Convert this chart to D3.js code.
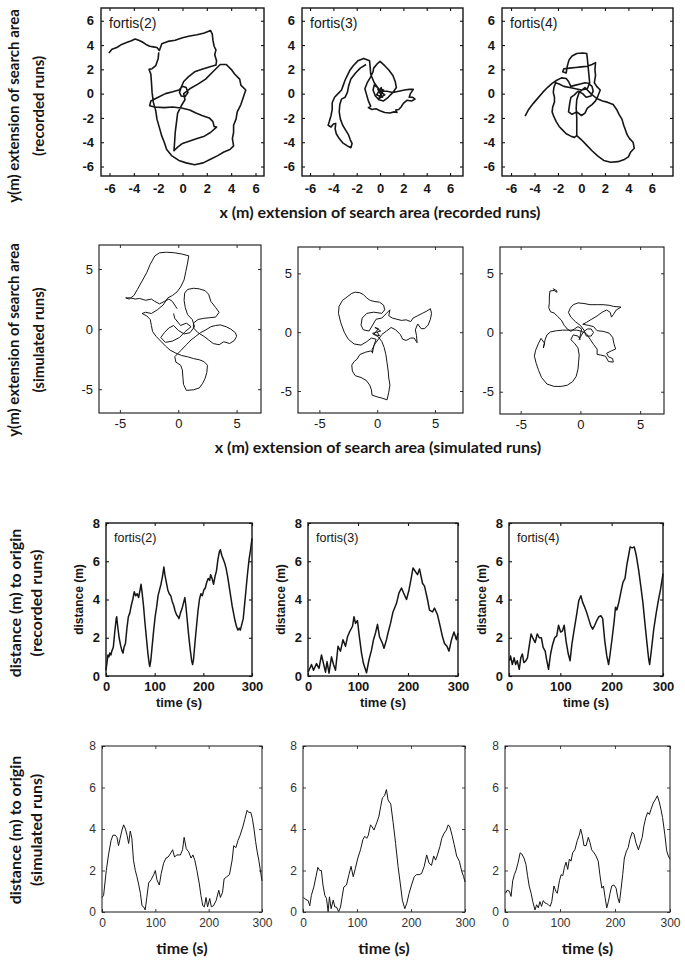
<!DOCTYPE html>
<html><head><meta charset="utf-8">
<script src="https://cdn.jsdelivr.net/npm/d3@7"></script>
<style>body{margin:0;background:#fff}svg{display:block}</style>
</head><body>
<svg id="c" width="685" height="960"></svg>
<script>
// ---------- DATA ----------
const panelTitles = ["fortis(2)", "fortis(3)", "fortis(4)"];
const recTicks = [-6, -4, -2, 0, 2, 4, 6];
const simTicks = [-5, 0, 5];
const timeTicks = [0, 100, 200, 300];
const distTicks = [0, 2, 4, 6, 8];

// recorded runs, x/y positions (m)
const recXY2 = [[-6.05,3.35],[-5.8,3.65],[-5.4,3.8],[-5.0,4.05],[-4.6,4.2],[-4.2,4.35],[-3.9,4.5],[-3.6,4.4],[-3.3,4.25],[-3.0,4.05],[-2.7,3.9],[-2.4,3.85],[-2.1,3.8],[-1.9,3.55],
[-1.7,4.1],[-1.2,4.3],[-0.6,4.4],[0,4.6],[0.6,4.75],[1.2,4.85],[1.8,5.0],[2.3,5.2],[2.45,4.9],[2.5,4.4],[2.6,3.9],[2.75,3.6],[2.65,3.2],[2.8,2.7],[2.75,2.35],
[2.2,2.2],[1.6,2.0],[1.0,1.8],[0.5,1.4],[0.1,1.0],[-0.1,0.55],[-0.25,0.1],[-0.1,-0.2],[0.2,-0.25],[0.45,0.1],[0.3,0.5],[0,0.6],[-0.3,0.3],
[-0.8,0.15],[-1.4,0.0],[-2.0,-0.3],[-2.6,-0.6],[-2.7,-1.0],[-2.3,-1.1],[-1.5,-1.15],[-0.8,-1.1],[0,-1.2],[0.6,-1.35],[1.1,-1.6],[1.6,-1.8],[2.2,-2.0],[2.5,-2.3],[2.6,-2.7],[2.8,-2.75],
[2.3,-3.2],[1.8,-3.5],[1.2,-3.7],[0.6,-3.9],[0,-4.1],[-0.4,-4.4],[-0.7,-4.7],
[-0.65,-4.0],[-0.6,-3.2],[-0.5,-2.4],[-0.4,-1.6],[-0.1,-1.0],[0.2,-0.5],[0.1,0.0],
[0.6,0.4],[1.3,0.8],[1.9,1.2],[2.5,1.8],[3.1,2.4],[3.6,2.4],[4.0,2.0],[4.3,1.6],[4.7,1.2],[4.8,0.7],[5.2,0.3],[5.0,-0.3],[4.8,-0.9],[4.5,-1.5],[4.4,-2.1],[4.2,-2.6],[4.2,-3.2],[4.1,-3.7],[4.2,-4.3],[3.9,-4.6],[3.4,-4.8],[2.9,-5.1],[2.3,-5.4],[1.7,-5.7],[1.0,-5.85],[0.3,-5.7],[-0.3,-5.5],[-0.9,-5.1],[-1.3,-4.6],[-1.5,-4.0],[-1.7,-3.5],[-1.9,-2.8],[-2.1,-2.1],[-2.2,-1.4],[-2.4,-0.7],[-2.5,0.1],[-2.55,0.9],[-2.6,1.6],[-2.75,2.0],[-2.5,2.05],[-2.2,2.3],[-2.0,2.9],[-1.95,3.4]];

const recXY3 = [[0,0],[0.3,0.3],[-0.2,0.4],[0.2,-0.3],[-0.3,-0.1],[0.1,0.5],[0.2,0.1],[-0.1,-0.4],[0.4,-0.1],[0,0.2],
[0.6,0.2],[1.1,0.1],[1.6,0.2],[2.1,0.3],[2.5,0.35],[2.85,0.35],[2.6,0.0],[2.5,-0.3],[2.8,-0.3],[3.0,-0.45],[2.7,-0.6],[2.3,-0.55],[2.0,-0.8],[1.8,-1.1],[1.6,-1.3],[1.35,-1.35],[1.45,-1.55],[1.2,-1.5],
[0.85,-1.6],[0.4,-1.55],[0.0,-1.4],[-0.35,-1.25],[-0.7,-1.3],[-1.0,-1.15],[-0.8,-1.05],[-1.0,-0.6],[-1.15,-0.1],[-1.3,0.4],[-1.1,0.9],[-0.85,1.3],[-0.6,1.8],[-0.55,2.1],
[-0.2,2.5],[0.0,2.65],[0.4,2.3],[0.75,1.95],[1.1,1.5],[1.3,1.0],[1.4,0.5],[1.1,0.1],[0.7,-0.3],[0.3,-0.6],[-0.1,-0.5],[-0.4,-0.2],[-0.6,0.3],[-0.5,0.7],[-0.2,0.5],[0.1,0.1],
[-0.5,0.9],[-0.8,1.6],[-0.85,2.2],[-0.9,2.7],[-1.4,2.9],[-1.9,2.7],[-2.3,2.3],[-2.6,1.9],[-2.8,1.5],[-3.0,1.1],[-3.15,0.7],[-3.3,0.3],[-3.6,0.0],[-3.9,-0.3],[-4.1,-0.75],[-4.1,-1.3],[-4.2,-1.8],[-4.35,-2.3],[-4.45,-2.6],[-4.2,-2.75],[-4.0,-2.5],[-3.8,-2.45],[-3.85,-2.9],[-3.75,-3.3],[-3.5,-3.7],[-3.2,-4.05],[-2.8,-4.3],[-2.5,-4.45],[-2.4,-4.1],[-2.55,-3.8],[-2.7,-3.4],[-2.95,-3.0],[-3.2,-2.6],[-3.4,-2.1],[-3.5,-1.5],[-3.45,-0.9],[-3.3,-0.45],[-3.0,-0.3],[-2.8,0.1],[-2.7,0.6],[-2.5,1.2],[-2.1,1.7],[-1.7,2.1],[-1.2,2.4]];

const recXY4 = [[-4.8,-1.85],[-4.5,-1.3],[-4.1,-0.8],[-3.7,-0.35],[-3.3,0.1],[-2.9,0.5],[-2.5,0.85],[-2.1,1.1],[-1.7,1.3],[-1.3,1.25],[-1.1,1.0],[-0.9,0.6],[-0.5,0.7],[-0.1,0.8],[0.3,0.9],[0.6,0.85],[0.9,0.6],[1.0,0.2],[0.8,-0.2],[0.4,-0.3],[0.1,0.0],[-0.3,0.2],[-0.6,-0.1],[-0.9,-0.3],[-1.0,-0.8],[-1.1,-1.5],[-0.8,-1.7],[-0.4,-1.5],[0.0,-1.8],[0.3,-1.6],[0.5,-1.2],[0.9,-0.9],[1.2,-0.6],[1.4,-0.2],[1.6,0.3],[1.3,0.6],[1.1,0.9],
[1.2,1.5],[1.15,2.0],[1.2,2.55],[0.9,2.4],[0.5,2.25],[0.0,2.2],[-0.5,2.15],[-1.0,2.1],[-1.5,2.05],[-1.6,1.8],[-1.3,1.7],[-1.2,2.3],[-1.05,2.8],[-0.8,3.1],[-0.4,3.3],[0.1,3.35],[0.45,3.3],[0.5,2.9],[0.55,2.4],[0.6,1.9],[0.65,1.4],[0.7,0.9],[0.5,0.4],[0.0,0.3],
[-0.5,0.4],[-1.0,0.5],[-1.5,0.6],[-1.9,0.8],[-2.2,0.9],[-2.35,0.5],[-2.4,0.1],[-2.3,-0.3],[-2.3,-0.7],[-2.45,-1.1],[-2.5,-1.5],[-2.35,-1.9],[-2.15,-2.3],[-1.9,-2.7],[-1.6,-3.0],[-1.3,-3.3],[-0.9,-3.5],[-0.6,-3.6],[-0.4,-3.45],
[-0.4,-2.8],[-0.4,-2.0],[-0.45,-1.2],[-0.4,-0.5],[-0.2,0.1],
[0.3,0.5],[0.8,0.0],[1.3,-0.4],[1.8,-0.6],[2.2,-0.7],[2.7,-0.9],[3.0,-1.3],[3.2,-1.7],[3.45,-2.1],[3.6,-2.6],[3.75,-3.0],[3.9,-3.4],[4.1,-3.7],[4.4,-4.0],[4.5,-4.5],[4.2,-4.8],[4.0,-5.2],[3.6,-5.45],[3.1,-5.6],[2.5,-5.65],[1.9,-5.5],[1.4,-5.15],[0.9,-4.7],[0.4,-4.2],[0.0,-3.8],[-0.4,-3.45]];

// simulated runs, x/y positions (m)
const simXY2 = [[-0.1,1.7],[-0.5,2.3],[-0.8,2.5],[-1.2,2.3],[-1.6,2.1],[-2.0,2.3],[-2.3,2.5],[-2.8,2.4],[-3.3,2.55],[-3.7,2.5],[-4.1,2.6],[-4.5,2.6],[-4.2,2.5],[-3.8,2.8],[-3.5,3.3],[-3.1,4.0],[-2.7,4.7],[-2.4,5.4],[-2.0,6.1],[-1.6,6.35],[-1.0,6.4],[-0.3,6.35],[0.3,6.25],[0.9,6.1],[0.8,5.5],[0.65,4.8],[0.5,4.1],[0.2,3.5],[-0.1,3.1],[-0.5,2.8],[-0.9,2.6],[-1.3,2.0],[-1.8,1.6],[-2.3,1.3],[-2.8,1.4],[-3.1,1.3],[-2.7,1.1],[-2.4,0.8],[-2.3,0.3],[-2.2,-0.2],[-1.9,-0.6],[-1.5,-1.0],[-1.1,-1.4],[-0.7,-1.75],[-0.2,-2.0],[0.3,-2.2],[0.8,-2.3],[1.3,-2.45],[1.8,-2.55],[2.2,-2.7],[2.5,-3.0],[2.45,-3.6],[2.3,-4.1],[2.1,-4.5],[1.8,-4.9],[1.3,-5.05],[0.7,-5.1],[0.45,-4.6],[0.4,-4.0],[0.35,-3.4],[0.2,-3.0],[-0.2,-2.75],[-0.3,-2.3],[0.2,-1.8],[0.7,-1.3],[1.1,-0.9],[1.5,-0.6],[1.9,-0.3],[2.3,-0.1],[2.8,0.2],[3.2,0.3],[3.6,0.35],[4.1,0.2],[4.5,0.0],[4.9,-0.3],[5.0,-0.6],[4.8,-0.95],[4.4,-1.2],[3.9,-1.05],[3.5,-1.3],[3.0,-1.2],[2.6,-0.9],[2.2,-0.6],[1.7,-0.3],[1.3,0.1],[1.3,0.5],[1.7,0.8],[2.2,0.9],[2.7,0.95],[3.2,1.0],[3.5,1.4],[3.2,1.8],[2.8,2.3],[2.6,2.9],[2.3,3.2],[1.8,3.35],[1.3,3.4],[0.8,3.3],[0.55,3.0],[0.5,2.4],[0.6,1.8],[0.8,1.2],[1.2,0.8],[1.4,0.2],[1.0,-0.3],[0.5,-0.4],[0.0,-0.1],[-0.4,0.3],[-0.8,0.1],[-1.2,-0.3],[-1.5,-0.7],[-1.1,-1.1],[-0.5,-1.0],[0.1,-0.7],[0.6,-0.2],[1.1,0.2],[0.7,0.5],[0.2,0.3],[-0.3,0.9],[-0.4,1.3]];

const simXY3 = [[0,0],[0.2,-0.3],[-0.3,-0.2],[0.1,0.3],[-0.2,0.4],[0.3,0.1],[-0.4,-0.1],[0.1,-0.4],
[0.4,-0.8],[0.6,-1.3],[0.75,-1.9],[0.85,-2.6],[0.95,-3.3],[1.0,-3.9],[1.1,-4.5],[1.0,-5.1],[0.85,-5.75],[0.4,-5.6],[0.0,-5.5],[-0.45,-5.35],[-0.5,-4.9],[-0.65,-4.5],[-0.95,-4.1],[-1.4,-3.85],[-1.9,-3.7],[-2.15,-3.3],[-2.2,-2.8],[-2.0,-2.5],[-1.75,-2.3],[-1.5,-1.9],[-1.0,-1.7],[-0.6,-1.6],[-0.4,-1.7],[-0.3,-1.2],[-0.1,-0.6],
[-0.5,-0.5],[-0.9,-0.8],[-1.4,-1.1],[-2.0,-1.0],[-2.5,-0.6],[-2.85,0.0],[-3.15,0.8],[-3.35,1.6],[-3.3,2.2],[-3.0,2.7],[-2.6,3.0],[-2.2,3.3],[-1.9,3.4],[-1.5,3.35],[-1.2,3.2],[-0.9,2.9],[-0.6,2.7],[-0.2,2.6],[0.2,2.55],[0.55,2.3],[0.65,1.9],[0.4,1.6],
[-0.3,1.7],[-0.9,1.6],[-1.3,1.2],[-1.4,0.6],[-1.2,0.2],[-0.7,0.1],[-0.4,0.6],[-0.1,1.1],[0.4,1.2],[0.8,1.6],[1.1,1.9],[1.0,1.4],
[1.3,1.2],[1.7,1.1],[2.1,1.0],[2.5,1.05],[2.9,0.9],[3.1,1.2],[3.5,1.4],[3.9,1.6],[4.3,1.8],[4.6,2.0],[4.7,1.6],[4.6,1.1],[4.4,0.6],[4.1,0.3],[3.8,0.3],[3.5,0.7],[3.3,0.2],[3.4,-0.3],[3.45,-0.9],[3.2,-0.5],[2.9,-0.5],[2.5,-0.7],[2.2,-0.6],[2.0,-0.2],[1.6,0.2],[1.2,0.4],[0.8,0.1],[0.4,-0.2],
[0.1,-0.6],[-0.2,-1.0],[-0.45,-1.5],[-0.4,-1.8]];

const simXY4 = [[-2.3,3.7],[-2.0,3.55],[-1.95,3.4],[-2.2,3.55],[-2.55,3.5],[-2.6,3.0],[-2.6,2.5],[-2.65,2.1],[-2.5,1.75],[-2.2,1.65],[-1.9,1.35],[-1.6,1.05],[-1.35,0.6],[-1.1,0.3],[-0.8,0.1],[-0.5,0.3],[-0.2,0.5],[0.1,0.3],[0.0,-0.2],[-0.1,-0.6],[0.1,-0.2],[0.3,0.1],[0.6,0.3],[0.9,0.3],[1.1,0.0],[0.9,-0.3],[0.5,-0.3],[0.3,0.2],
[0.0,0.6],[-0.4,0.9],[-0.8,1.3],[-1.0,1.7],[-0.85,2.05],[-0.6,2.35],[-0.2,2.5],[0.3,2.45],[0.8,2.35],[1.4,2.35],[1.9,2.35],[2.4,2.3],[2.8,2.2],[3.4,2.15],[3.0,1.9],[2.75,1.5],[2.6,1.3],[2.5,1.7],[2.2,1.9],[1.8,1.7],[1.4,1.4],[0.9,1.1],[0.5,0.85],[0.2,0.7],
[0.7,0.6],[1.1,0.5],[1.4,0.15],[1.9,0.1],[2.4,-0.05],[2.7,-0.4],[2.8,-0.9],[2.95,-1.4],[2.6,-1.55],[2.2,-1.75],[2.35,-2.05],[2.7,-2.2],[2.75,-2.5],[2.35,-2.45],[2.1,-2.0],[1.7,-1.9],[1.4,-1.85],[1.4,-1.4],[1.1,-1.0],[0.8,-0.55],[0.5,-0.1],[0.1,0.1],
[-0.3,0.2],[-0.9,0.2],[-1.5,0.2],[-2.0,0.15],[-2.5,0.05],[-2.8,-0.2],[-2.95,-0.6],[-3.1,-1.3],[-3.0,-0.9],[-3.3,-0.5],[-3.5,-0.9],[-3.75,-1.5],[-3.85,-2.0],[-3.7,-2.6],[-3.5,-3.2],[-3.25,-3.8],[-2.8,-4.35],[-2.2,-4.55],[-1.6,-4.55],[-1.1,-4.45],[-0.65,-4.15],[-0.35,-3.7],[-0.2,-3.1],[-0.15,-2.5],[-0.1,-1.9],[-0.2,-1.3],[-0.5,-0.9],[-0.8,-0.6],[-0.6,-0.2],[-0.2,-0.3],[0.0,-0.6]];

// distance to origin [time (s), distance (m)]
const recDist2 = [[0,0.3],[2,0.7],[4,1.1],[6,1.0],[8,1.2],[10,1.1],[12,1.3],[15,1.5],[18,2.3],[21,3.0],[22,3.1],[24,2.6],[27,2.0],[30,1.6],[33,1.3],[35,1.2],[37,1.5],[40,1.7],[43,2.5],[46,3.1],[49,3.3],[52,3.7],[55,4.0],[58,4.4],[61,4.2],[64,4.3],[67,4.1],[70,4.5],[72,4.8],[74,4.4],[77,3.7],[80,2.8],[83,2.0],[86,1.2],[89,0.6],[90,0.5],[92,0.8],[95,1.6],[98,2.4],[101,3.1],[104,3.6],[107,4.2],[110,4.5],[113,4.8],[116,5.2],[119,5.7],[121,5.3],[124,4.9],[127,4.5],[130,4.3],[133,4.2],[136,3.9],[139,3.7],[142,3.4],[145,3.2],[148,3.1],[150,3.0],[153,3.3],[156,3.5],[159,3.8],[162,4.1],[164,3.7],[167,2.9],[170,2.1],[173,1.4],[176,0.8],[178,0.6],[180,0.9],[183,1.8],[186,2.6],[189,3.4],[192,4.0],[195,4.3],[198,4.2],[201,4.5],[204,4.6],[207,4.9],[210,5.1],[213,5.0],[215,5.3],[218,5.1],[221,4.8],[224,5.2],[227,5.5],[230,6.1],[233,6.5],[235,6.6],[238,6.3],[241,6.1],[244,5.9],[247,5.6],[250,5.2],[253,4.7],[256,4.2],[259,3.7],[262,3.3],[265,2.9],[268,2.6],[271,2.4],[274,2.5],[276,2.4],[279,2.7],[282,3.0],[285,3.8],[288,4.6],[291,5.4],[294,6.1],[297,6.6],[300,7.2]];
const recDist3 = [[0,0.2],[2,0.3],[7,0.6],[11,0.3],[17,0.65],[22,0.4],[27,1.1],[31,0.65],[35,0.2],[38,0.75],[42,0.15],[47,1.0],[51,0.6],[55,0.3],[60,1.55],[65,1.3],[70,1.9],[75,1.55],[79,2.05],[83,2.3],[89,2.6],[92,3.1],[95,2.75],[99,2.9],[102,2.2],[107,1.2],[111,0.65],[117,0.17],[122,0.85],[127,1.35],[131,1.9],[135,2.25],[139,2.7],[143,2.05],[149,1.7],[152,1.45],[157,1.9],[160,2.25],[165,2.75],[170,3.35],[177,3.8],[182,4.35],[187,4.6],[191,4.35],[197,4.0],[202,4.5],[207,5.2],[210,5.65],[215,5.45],[219,5.3],[223,5.6],[229,4.85],[233,4.7],[239,4.0],[243,3.45],[249,3.35],[253,3.55],[259,3.2],[263,2.75],[269,2.05],[273,1.7],[278,1.55],[282,1.3],[287,1.9],[292,2.3],[297,1.9],[300,2.25]];
const recDist4 = [[1,0.8],[3,1.05],[6.5,0.6],[10,0.95],[13,0.6],[16,0.8],[20,0.35],[23,0.95],[26,1.15],[29,0.7],[33,0.8],[36,0.95],[39,1.5],[43,2.2],[47,1.95],[51,1.75],[55,2.2],[59,2.0],[63,2.0],[66.5,1.5],[70.5,1.3],[73,0.9],[77,0.35],[81,1.15],[85,1.65],[89,2.0],[93,2.1],[96.5,2.65],[100.5,2.3],[104,2.35],[107.5,2.65],[111,1.85],[115.5,1.15],[119,0.8],[122.5,1.65],[126.5,2.35],[132,3.25],[136,3.95],[140,4.2],[143.5,3.85],[147.5,3.6],[151,3.35],[155,3.0],[159,2.65],[163,2.45],[167,2.65],[171,2.9],[175,3.1],[179,3.15],[182.5,3.0],[186.5,1.85],[190.5,1.05],[194,0.6],[197,1.15],[201,2.0],[205,2.9],[207.5,3.6],[210,3.45],[214,3.85],[218,4.4],[222,4.9],[226,5.1],[229.5,5.8],[233,6.3],[236,6.75],[240,6.7],[244,6.75],[248,6.3],[252.5,5.55],[257,4.65],[261,3.8],[265,2.7],[269,1.65],[272,0.9],[274,0.6],[278,1.5],[282,2.45],[286.5,3.25],[291,3.95],[295,4.5],[298,5.0],[300,5.35]];
const simDist2 = [[0,0.7],[3,0.8],[8,2.0],[12.5,2.8],[17,3.45],[20.5,3.7],[25,3.7],[28,3.6],[31,3.2],[34,3.55],[37.5,3.95],[40.5,4.2],[44,4.0],[47,3.7],[50,3.3],[53,3.9],[56,3.55],[59,2.5],[62.5,2.0],[65.5,1.7],[69,1.3],[72,0.9],[75,0.3],[78,0.25],[81,0.1],[84,0.7],[87.5,1.4],[92,1.55],[97,1.8],[100,2.0],[103,1.55],[107.5,1.3],[111,1.85],[115.5,2.35],[120,2.6],[124,2.65],[128,2.8],[132.5,3.0],[136,2.65],[140.5,2.75],[147,2.75],[151,3.0],[154,3.6],[158,3.05],[162.5,2.9],[167,2.6],[170.5,2.75],[174,2.5],[178,2.0],[182.5,1.35],[185.5,0.8],[189,0.3],[192,0.25],[195,0.7],[198,0.25],[202,0.65],[205,0.25],[209,0.3],[214,0.55],[219,1.05],[222,0.7],[226,0.95],[229,1.6],[234,1.7],[239,1.8],[244,2.5],[247,3.2],[251,3.1],[255,3.45],[259,3.7],[264,4.1],[267.5,4.45],[272,4.9],[275,4.8],[279,4.8],[282,4.5],[285,4.0],[288,3.4],[291,2.9],[294,2.5],[297,2.0],[300,1.5]];
const simDist3 = [[1,0.7],[5.5,0.6],[9.5,0.55],[12.5,0.3],[15.5,0.8],[20,1.2],[24,1.7],[27.5,2.15],[31,2.0],[34,2.0],[37,1.3],[40.5,0.8],[43.5,0.65],[46.5,0.02],[49,0.73],[52,0.16],[56,0.57],[59,0.24],[62,0.24],[66,0.02],[69.5,0.24],[72.5,0.73],[75.5,1.2],[80.5,1.3],[85,1.8],[89,2.2],[93,1.7],[97,2.1],[101.5,2.6],[106.5,3.0],[111,3.5],[114.5,3.65],[118,3.55],[121,3.7],[125,4.2],[128,4.1],[131.5,3.95],[136.5,4.3],[140.5,4.6],[144,5.1],[147,5.5],[151,5.6],[154.5,5.9],[157.5,5.4],[162.5,5.2],[167,4.3],[171.5,3.3],[176,2.2],[180,1.4],[184,0.57],[188.5,0.16],[192,0.4],[196.5,0.9],[201,1.3],[206,1.7],[210,1.8],[215,1.8],[219.5,1.85],[224.5,2.2],[229,2.75],[233.5,2.35],[238,2.25],[242,2.7],[245.5,2.5],[249,2.75],[253.5,3.15],[257,3.55],[261.5,3.8],[265.5,3.95],[269,4.2],[272,4.1],[276,3.7],[280,3.25],[284.5,2.7],[289.5,2.45],[294,1.95],[297.5,1.7],[300,1.45]];
const simDist4 = [[1,0.9],[4,1.05],[8,1.0],[11,0.75],[14,1.5],[17,1.8],[20,2.0],[24,2.4],[27.5,2.85],[30.5,2.8],[34.5,2.6],[38,2.3],[41,1.75],[44,1.25],[47.5,0.9],[50.5,0.5],[54.5,0.1],[57.5,0.35],[60.5,0.2],[63.5,0.5],[66.5,0.27],[69.5,0.55],[72.5,0.44],[76,0.4],[79,0.35],[82,0.27],[85,0.5],[89,1.25],[92.5,1.0],[95,0.9],[99,1.5],[102,1.8],[105,1.75],[108,2.15],[111,2.4],[114,2.05],[117,2.55],[120,2.45],[123,2.85],[127,3.0],[131.5,3.45],[135,3.7],[137.5,4.0],[140.5,3.7],[143.5,3.2],[147.5,3.2],[151.5,3.6],[154.5,3.35],[157.5,3.0],[162,2.85],[165.5,2.7],[169.5,2.45],[172.5,1.8],[176,1.15],[179,1.25],[182,0.7],[185,0.2],[188,0.5],[191,0.9],[194,1.25],[198,1.3],[202,1.15],[205,0.7],[208,0.44],[211,1.1],[214,1.8],[217,2.6],[221,2.95],[224,3.1],[227,3.5],[231.5,3.85],[234.5,3.75],[238,3.35],[242.5,3.0],[245.5,3.25],[249.5,3.6],[252.5,4.15],[256,4.55],[259.5,4.8],[262.5,4.7],[265.5,4.95],[269.5,5.25],[274,5.45],[277,5.6],[280.5,5.3],[283.5,4.95],[286.5,4.55],[290.5,3.75],[294,2.95],[297,2.7],[300,2.55]];

// ---------- DRAW ----------
const svg = d3.select("#c");
const INK = "#161616";
const TICKFONT = "'Liberation Sans', Arial, sans-serif";
const BIGFONT = "Lato, 'Open Sans', sans-serif";
const fmt = d => String(d);

function panel(o) {
  const g = svg.append("g");
  const x = d3.scaleLinear().domain(o.xd).range([o.x0, o.x1]);
  const y = d3.scaleLinear().domain(o.yd).range([o.y1, o.y0]);
  const tk = o.tick || 3;
  const style = sel => {
    sel.select(".domain").remove();
    sel.selectAll("line").attr("stroke", INK).attr("stroke-width", o.boxW * 0.8);
    sel.selectAll("text").attr("font-family", TICKFONT).attr("font-size", o.tfs)
      .attr("font-weight", o.tfw).attr("fill", o.tcol || INK);
  };
  g.append("g").attr("transform", `translate(0,${o.y1})`)
    .call(d3.axisBottom(x).tickValues(o.xt).tickSizeInner(-tk).tickSizeOuter(0).tickPadding(o.xpad).tickFormat(fmt))
    .call(style);
  g.append("g").attr("transform", `translate(${o.x0},0)`)
    .call(d3.axisLeft(y).tickValues(o.yt).tickSizeInner(-tk).tickSizeOuter(0).tickPadding(o.ypad).tickFormat(fmt))
    .call(style);
  g.append("g").attr("transform", `translate(0,${o.y0})`)
    .call(d3.axisTop(x).tickValues(o.xt).tickSizeInner(-tk).tickSizeOuter(0).tickFormat(""))
    .call(style);
  g.append("g").attr("transform", `translate(${o.x1},0)`)
    .call(d3.axisRight(y).tickValues(o.yt).tickSizeInner(-tk).tickSizeOuter(0).tickFormat(""))
    .call(style);
  g.append("rect").attr("x", o.x0).attr("y", o.y0).attr("width", o.x1 - o.x0).attr("height", o.y1 - o.y0)
    .attr("fill", "none").attr("stroke", INK).attr("stroke-width", o.boxW);
  g.append("path").datum(o.data)
    .attr("d", d3.line().x(d => x(d[0])).y(d => y(d[1])))
    .attr("fill", "none").attr("stroke", INK).attr("stroke-width", o.lw).attr("stroke-linejoin", "round");
  if (o.title) {
    g.append("text").attr("x", o.x0 + o.tdx).attr("y", o.y0 + o.tdy).text(o.title)
      .attr("font-family", TICKFONT).attr("font-size", o.titleFs).attr("fill", INK);
  }
  if (o.ylab) {
    g.append("text").attr("transform", `translate(${o.x0 - 23},${(o.y0 + o.y1) / 2}) rotate(-90)`)
      .attr("text-anchor", "middle").text(o.ylab)
      .attr("font-family", TICKFONT).attr("font-size", 12).attr("font-weight", "bold").attr("fill", INK);
  }
  if (o.xlab) {
    g.append("text").attr("x", (o.x0 + o.x1) / 2).attr("y", o.xlabY).attr("text-anchor", "middle").text(o.xlab)
      .attr("font-family", o.xlabFont).attr("font-size", o.xlabFs).attr("font-weight", o.xlabW).attr("fill", INK);
  }
}

// row 1: recorded x/y
const row1 = [
  {x0: 101, x1: 264, xd: [-6.7, 6.7], data: recXY2},
  {x0: 302, x1: 463, xd: [-6.69, 7.11], data: recXY3},
  {x0: 502, x1: 673, xd: [-6.77, 7.8], data: recXY4}
];
row1.forEach((p, i) => panel(Object.assign({
  y0: 8, y1: 176, yd: [-6.78, 7.05], xt: recTicks, yt: recTicks,
  tfs: 13, tfw: "bold", xpad: 8, ypad: 7, boxW: 1.4, lw: 1.6,
  title: panelTitles[i], tdx: 8, tdy: 20, titleFs: 14
}, p)));

// row 2: simulated x/y
const row2 = [
  {x0: 99, x1: 261, y0: 245, y1: 413, xd: [-6.79, 7.09], yd: [-6.98, 7.0], data: simXY2},
  {x0: 298, x1: 463, y0: 247, y1: 413, xd: [-6.85, 7.42], yd: [-6.87, 7.24], data: simXY3},
  {x0: 500, x1: 664, y0: 247, y1: 414, xd: [-6.73, 7.0], yd: [-6.88, 7.22], data: simXY4}
];
row2.forEach(p => panel(Object.assign({
  xt: simTicks, yt: simTicks, tfs: 13, tfw: "normal", xpad: 6, ypad: 6, boxW: 1.1, lw: 1.0
}, p)));

// row 3: recorded distance
const row3 = [
  {x0: 106, x1: 252, data: recDist2},
  {x0: 308, x1: 458, data: recDist3},
  {x0: 509, x1: 663, data: recDist4}
];
row3.forEach((p, i) => panel(Object.assign({
  y0: 523, y1: 676, xd: [0, 300], yd: [0, 8], xt: timeTicks, yt: distTicks,
  tfs: 13, tfw: "bold", xpad: 6, ypad: 6, boxW: 1.4, lw: 1.5,
  title: panelTitles[i], tdx: 8, tdy: 19, titleFs: 12.5,
  ylab: "distance (m)", xlab: "time (s)", xlabY: 707, xlabFont: TICKFONT, xlabFs: 13, xlabW: "bold"
}, p)));

// row 4: simulated distance
const row4 = [
  {x0: 102, x1: 262, data: simDist2},
  {x0: 303, x1: 465, data: simDist3},
  {x0: 505, x1: 670, data: simDist4}
];
row4.forEach(p => panel(Object.assign({
  y0: 746, y1: 912, xd: [0, 300], yd: [0, 8], xt: timeTicks, yt: distTicks,
  tfs: 12, tfw: "normal", tcol: "#333", xpad: 6, ypad: 6, boxW: 1.0, lw: 1.0,
  xlab: "time (s)", xlabY: 954, xlabFont: BIGFONT, xlabFs: 16, xlabW: "bold"
}, p)));

// big figure labels
function bigY(lines, cx, cy, gap, fs) {
  lines.forEach((t, i) => {
    svg.append("text").attr("transform", `translate(${cx + i * gap},${cy}) rotate(-90)`)
      .attr("text-anchor", "middle").attr("dy", "0.35em").text(t)
      .attr("font-family", BIGFONT).attr("font-size", fs).attr("font-weight", "bold").attr("fill", INK);
  });
}
bigY(["y(m)  extension of search area", "(recorded runs)"], 14, 106, 25, 15);
bigY(["y(m) extension of search area", "(simulated runs)"], 14, 340, 25, 15);
bigY(["distance (m) to origin", "(recorded runs)"], 15, 603, 21, 16);
bigY(["distance (m) to origin", "(simulated runs)"], 15, 830, 21, 16);

function bigX(t, cx, cy) {
  svg.append("text").attr("x", cx).attr("y", cy).attr("text-anchor", "middle").attr("dy", "0.35em").text(t)
    .attr("font-family", BIGFONT).attr("font-size", 16).attr("font-weight", "bold").attr("fill", INK);
}
bigX("x (m) extension of search area (recorded runs)", 380, 212);
bigX("x (m) extension of search area (simulated runs)", 378, 447);
</script>
</body></html>
